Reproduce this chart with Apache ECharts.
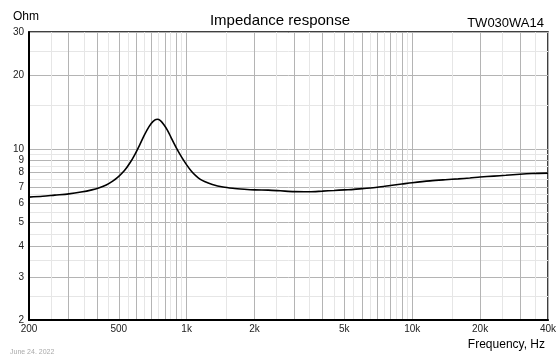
<!DOCTYPE html>
<html>
<head>
<meta charset="utf-8">
<script src="https://cdn.jsdelivr.net/npm/echarts@6/dist/echarts.min.js"></script>
<style>
  html, body { margin: 0; padding: 0; background: #fff; }
  #chart { width: 560px; height: 354px; }
</style>
</head>
<body>
<div id="chart"></div>
<script>
// measured impedance curve (Hz, Ohm)
const freqHz = [200, 230, 260, 300, 340, 380, 410, 440, 470, 500, 530, 560, 590, 620, 650, 680, 710, 740, 765, 790, 820, 850, 880, 910, 950,
  1000, 1050, 1100, 1150, 1200, 1300, 1450, 1600, 1800, 2000, 2300, 2600, 3000, 3500, 4000, 4500, 5000, 5500,
  6000, 7000, 8000, 9000, 10000, 12000, 14000, 16000, 18000, 20000, 23000, 26000, 30000, 34000, 40000];
const ohms = [6.35, 6.4, 6.47, 6.55, 6.66, 6.8, 6.94, 7.12, 7.38, 7.72, 8.15, 8.75, 9.5, 10.4, 11.4, 12.3, 12.95, 13.2, 13.05, 12.6, 11.95, 11.2, 10.5, 9.9, 9.25,
  8.6, 8.1, 7.75, 7.5, 7.35, 7.15, 6.98, 6.9, 6.84, 6.8, 6.78, 6.74, 6.69, 6.68, 6.72, 6.76, 6.8, 6.83,
  6.88, 6.97, 7.08, 7.18, 7.27, 7.4, 7.48, 7.54, 7.6, 7.67, 7.74, 7.8, 7.88, 7.93, 7.96];

// axis labels and grid lines
const xLabelHz = [200, 500, 1000, 2000, 5000, 10000, 20000, 40000];
const xMajorHz = [200, 300, 400, 500, 600, 700, 800, 900, 1000, 2000, 3000, 4000, 5000, 6000, 7000, 8000, 9000, 10000, 20000, 30000, 40000];
const xMinorHz = [250, 350, 450, 550, 650, 750, 850, 950, 1500, 2500, 3500, 4500, 5500, 6500, 7500, 8500, 9500, 15000, 25000, 35000];
const yLabelOhm = [2, 3, 4, 5, 6, 7, 8, 9, 10, 20, 30];
const yMinorOhm = [2.5, 3.5, 4.5, 5.5, 6.5, 7.5, 8.5, 9.5, 15, 25];

const lg = Math.log10;
const FONT = 'Liberation Sans';

function fmtHz(v) {
  const f = Math.round(Math.pow(10, v));
  return f >= 1000 ? (f / 1000) + 'k' : String(f);
}
function fmtOhm(v) {
  return String(Math.round(Math.pow(10, v) * 10) / 10);
}

const chart = echarts.init(document.getElementById('chart'));

const xRange = { min: lg(200), max: lg(40000) };
const yRange = { min: lg(2), max: lg(30) };

chart.setOption({
  animation: false,
  title: [
    { text: 'Impedance response', left: 'center', top: 8, textStyle: { fontFamily: FONT, fontSize: 15, fontWeight: 'normal', color: '#000' } },
    { text: 'TW030WA14', right: 11, top: 12, textStyle: { fontFamily: FONT, fontSize: 13, fontWeight: 'normal', color: '#000' } },
    { text: 'Ohm', left: 8, top: 6, textStyle: { fontFamily: FONT, fontSize: 12, fontWeight: 'normal', color: '#000' } },
    { text: 'Frequency, Hz', right: 10, top: 334, textStyle: { fontFamily: FONT, fontSize: 12, fontWeight: 'normal', color: '#000' } },
    { text: 'June 24, 2022', left: 5, top: 344, textStyle: { fontFamily: FONT, fontSize: 7, fontWeight: 'normal', color: '#aaa' } }
  ],
  grid: {
    left: 29, right: 12, top: 32, bottom: 34,
    show: true, borderColor: '#000', borderWidth: 1.5, backgroundColor: 'transparent'
  },
  xAxis: [
    {
      type: 'value', position: 'bottom', ...xRange,
      axisLine: { show: false }, axisLabel: { show: false },
      axisTick: { show: false, customValues: xMinorHz.map(lg) },
      splitLine: { show: true, lineStyle: { color: '#e6e6e6', width: 1 } }
    },
    {
      type: 'value', position: 'bottom', ...xRange,
      axisLine: { show: true, onZero: false, lineStyle: { color: '#000', width: 2 } },
      axisTick: { show: false, customValues: xMajorHz.map(lg) },
      axisLabel: {
        customValues: xLabelHz.map(lg), formatter: fmtHz, margin: 4,
        fontFamily: FONT, fontSize: 10, color: '#222'
      },
      splitLine: { show: true, lineStyle: { color: '#b4b4b4', width: 1 } }
    }
  ],
  yAxis: [
    {
      type: 'value', position: 'left', ...yRange,
      axisLine: { show: false }, axisLabel: { show: false },
      axisTick: { show: false, customValues: yMinorOhm.map(lg) },
      splitLine: { show: true, lineStyle: { color: '#e6e6e6', width: 1 } }
    },
    {
      type: 'value', position: 'left', ...yRange,
      axisLine: { show: true, onZero: false, lineStyle: { color: '#000', width: 2 } },
      axisTick: { show: false, customValues: yLabelOhm.map(lg) },
      axisLabel: {
        customValues: yLabelOhm.map(lg), formatter: fmtOhm, margin: 5,
        fontFamily: FONT, fontSize: 10, color: '#222'
      },
      splitLine: { show: true, lineStyle: { color: '#b4b4b4', width: 1 } }
    }
  ],
  series: [
    {
      type: 'line',
      xAxisIndex: 1, yAxisIndex: 1,
      data: freqHz.map((f, i) => [lg(f), lg(ohms[i])]),
      smooth: 0.3,
      showSymbol: false,
      lineStyle: { color: '#000', width: 1.6 },
      z: 5
    }
  ]
});
</script>
</body>
</html>
